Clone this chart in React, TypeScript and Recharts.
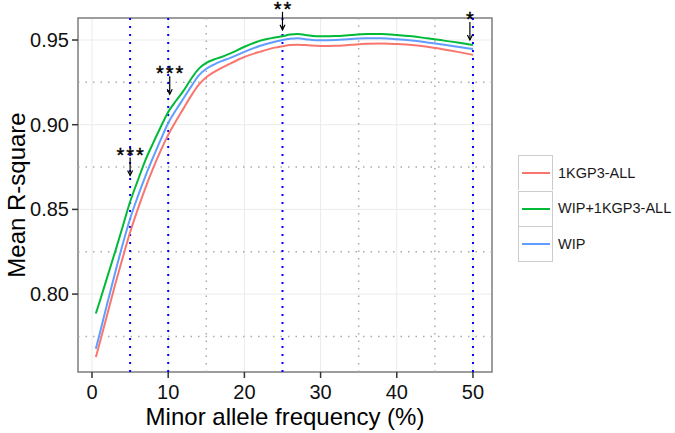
import React from 'react';
import {
  CartesianGrid,
  Line,
  LineChart,
  ReferenceArea,
  ReferenceDot,
  ReferenceLine,
  XAxis,
  YAxis,
} from 'recharts';

// minor allele frequency (%) at each smoothed point
const maf = [
  0.5, 1, 2, 3, 4, 5, 6, 7, 8, 9, 10, 11, 12, 13, 14, 15, 16, 17, 18, 20, 22, 24, 25, 26, 27, 28, 30, 32, 34,
  36, 38, 40, 42, 44, 46, 48, 50,
];

const kgp3All = [
  0.7628, 0.771, 0.788, 0.805, 0.821, 0.8365, 0.85, 0.8625, 0.874, 0.8845, 0.894, 0.902, 0.9095, 0.917, 0.9235,
  0.928, 0.931, 0.9335, 0.9358, 0.94, 0.943, 0.9455, 0.9463, 0.947, 0.9472, 0.947, 0.9465, 0.9466, 0.9472,
  0.9478, 0.948, 0.9476, 0.947, 0.946, 0.9446, 0.943, 0.9412,
];

const wipKgp3All = [
  0.7885, 0.7955, 0.81, 0.8245, 0.8395, 0.8545, 0.867, 0.879, 0.889, 0.8985, 0.9075, 0.914, 0.92, 0.927, 0.933,
  0.9365, 0.9385, 0.94, 0.9418, 0.946, 0.9495, 0.9515, 0.9522, 0.9532, 0.9535, 0.953, 0.9522, 0.9523, 0.953,
  0.9535, 0.9535, 0.953, 0.9522, 0.951, 0.9498, 0.9485, 0.947,
];

const wip = [
  0.7677, 0.7765, 0.7945, 0.812, 0.829, 0.8445, 0.8575, 0.8695, 0.8805, 0.891, 0.901, 0.9085, 0.9155, 0.9225,
  0.929, 0.933, 0.9355, 0.9375, 0.9392, 0.943, 0.9465, 0.949, 0.95, 0.9507, 0.951, 0.9505, 0.9498, 0.95, 0.9506,
  0.951, 0.951, 0.9505, 0.9497, 0.9486, 0.9473, 0.946, 0.9447,
];

const seriesKeys = ['kgp3', 'wipKgp3', 'wip'];
const seriesNames = ['1KGP3-ALL', 'WIP+1KGP3-ALL', 'WIP'];
const seriesColors = ['#F8766D', '#00BA38', '#619CFF'];

const xTicks = [0, 10, 20, 30, 40, 50];
const yTicks = [0.8, 0.85, 0.9, 0.95];
const minorY = [0.775, 0.825, 0.875, 0.925];
const minorX = [15, 35, 45];

// significance marks: position of the blue line, stars, arrow tip
const markX = [5, 10, 25, 50];
const markStars = ['***', '***', '**', '*'];
const markArrowX = [5, 10.2, 25, 49.6];
const markTipY = [0.87, 0.918, 0.956, 0.95];

const X_DOMAIN: [number, number] = [-1.84, 52.5];
const Y_DOMAIN: [number, number] = [0.754, 0.963];

const FONT = '"Liberation Sans", Arial, sans-serif';

const data = maf.map((x, i) => ({
  maf: x,
  kgp3: kgp3All[i],
  wipKgp3: wipKgp3All[i],
  wip: wip[i],
}));

function StarArrow({ cx, cy, stars }: any) {
  if (cx == null || cy == null) return null;
  const top = cy - 18;
  return (
    <g>
      <line x1={cx} y1={top} x2={cx} y2={cy} stroke="#000" strokeWidth={1.2} />
      <polyline points={`${cx - 2.5},${cy - 5} ${cx},${cy} ${cx + 2.5},${cy - 5}`} fill="none" stroke="#000" strokeWidth={1.2} />
      <text
        x={cx + 1}
        y={top + 4}
        textAnchor="middle"
        fontFamily={FONT}
        fontSize={20}
        letterSpacing={2}
        fill="#000"
        stroke="#000"
        strokeWidth={0.4}
      >
        {stars}
      </text>
    </g>
  );
}

function LegendBox() {
  return (
    <div style={{ position: 'absolute', left: 518, top: 155, fontFamily: FONT }}>
      {seriesNames.map((name, i) => (
        <div key={name} style={{ display: 'flex', alignItems: 'center', height: 35.5 }}>
          <div
            style={{
              width: 33,
              height: 34,
              borderLeft: '1.5px solid #cccccc',
              borderRight: '1.5px solid #cccccc',
              borderTop: '1.5px solid #cccccc',
              borderBottom: i === seriesNames.length - 1 ? '1.5px solid #cccccc' : 'none',
              display: 'flex',
              alignItems: 'center',
              justifyContent: 'center',
              boxSizing: 'content-box',
            }}
          >
            <div style={{ width: 28, height: 2, background: seriesColors[i] }} />
          </div>
          <span style={{ marginLeft: 5, fontSize: 14.5, color: '#1a1a1a' }}>{name}</span>
        </div>
      ))}
    </div>
  );
}

export default function App() {
  return (
    <div style={{ position: 'absolute', left: 0, top: 0, width: 675, height: 433, background: '#fff' }}>
      <LineChart width={675} height={433} data={data} margin={{ top: 18, right: 183, bottom: 0, left: 0 }}>
        <CartesianGrid stroke="#ebebeb" strokeWidth={1} />
        <XAxis
          dataKey="maf"
          type="number"
          domain={X_DOMAIN}
          ticks={xTicks}
          allowDataOverflow
          height={61}
          axisLine={false}
          tickSize={6}
          tickMargin={7}
          tickLine={{ stroke: '#333', strokeWidth: 1.5 }}
          tick={{ fontSize: 20, fontFamily: FONT, fill: '#111' }}
          label={{ value: 'Minor allele frequency (%)', position: 'insideBottom', offset: 8, fontSize: 24, fontFamily: FONT, fill: '#000' }}
        />
        <YAxis
          type="number"
          domain={Y_DOMAIN}
          ticks={yTicks}
          allowDataOverflow
          width={78}
          axisLine={false}
          tickSize={6}
          tickMargin={3}
          tickLine={{ stroke: '#333', strokeWidth: 1.5 }}
          tickFormatter={(v: number) => v.toFixed(2)}
          tick={{ fontSize: 20, fontFamily: FONT, fill: '#111' }}
          label={{
            content: (props: any) => {
              const vb = props.viewBox;
              const x = 25;
              const y = vb.y + vb.height / 2;
              return (
                <text x={x} y={y} transform={`rotate(-90, ${x}, ${y})`} textAnchor="middle" fontSize={24} fontFamily={FONT} fill="#000">
                  Mean R-square
                </text>
              );
            },
          }}
        />
        {minorY.map((v) => (
          <ReferenceLine key={`my${v}`} y={v} stroke="#aaaaaa" strokeWidth={1.5} strokeDasharray="1.5 6" />
        ))}
        {minorX.map((v) => (
          <ReferenceLine key={`mx${v}`} x={v} stroke="#aaaaaa" strokeWidth={1.5} strokeDasharray="1.5 6" />
        ))}
        {markX.map((v) => (
          <ReferenceLine key={`bx${v}`} x={v} stroke="#0000ff" strokeWidth={2} strokeDasharray="2 6" />
        ))}
        {seriesKeys.map((k, i) => (
          <Line
            key={k}
            type="monotone"
            dataKey={k}
            name={seriesNames[i]}
            stroke={seriesColors[i]}
            strokeWidth={2}
            dot={false}
            isAnimationActive={false}
          />
        ))}
        {markArrowX.map((v, i) => (
          <ReferenceDot
            key={`s${i}`}
            x={v}
            y={markTipY[i]}
            r={0}
            ifOverflow="visible"
            shape={(p: any) => <StarArrow cx={p.cx} cy={p.cy} stars={markStars[i]} />}
          />
        ))}
        <ReferenceArea x1={X_DOMAIN[0]} x2={X_DOMAIN[1]} y1={Y_DOMAIN[0]} y2={Y_DOMAIN[1]} fill="none" stroke="#808080" strokeWidth={1.5} ifOverflow="visible" />
      </LineChart>
      <LegendBox />
    </div>
  );
}
